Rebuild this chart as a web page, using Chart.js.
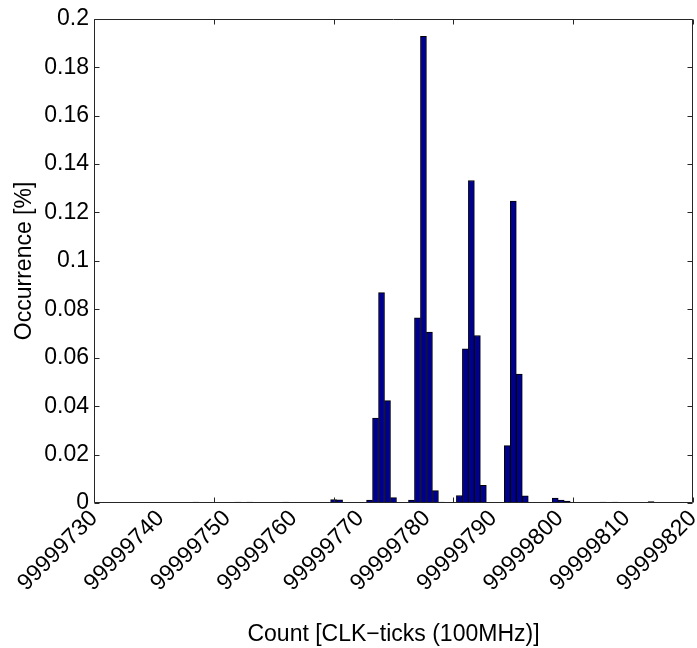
<!DOCTYPE html>
<html>
<head>
<meta charset="utf-8">
<script src="https://cdn.jsdelivr.net/npm/chart.js@4"></script>
<style>
  html, body { margin: 0; padding: 0; background: #fff; }
</style>
</head>
<body>
<canvas id="histChart" width="697" height="648"></canvas>
<script>
// counter readings (one histogram bin each) and how often each came up
const binCounts = [
  99999747, 99999754, 99999756, 99999762,
  99999770, 99999771,
  99999776, 99999777, 99999778, 99999779, 99999780,
  99999783, 99999784, 99999785, 99999786, 99999787, 99999788,
  99999791, 99999792, 99999793, 99999794, 99999795,
  99999799, 99999800, 99999801, 99999802,
  99999807, 99999808, 99999809, 99999815, 99999817, 99999823
];
const occurrence = [
  0.0004, 0.0004, 0.0004, 0.0004,
  0.0014, 0.0013,
  0.0012, 0.0351, 0.0869, 0.0423, 0.0022,
  0.0012, 0.0765, 0.1928, 0.0706, 0.0051, 0.0004,
  0.0031, 0.0637, 0.1332, 0.0692, 0.0073,
  0.0237, 0.1247, 0.0533, 0.0030,
  0.0020, 0.0012, 0.0008, 0.0004, 0.0004, 0.0006
];
// labels printed under the x axis
const countLabels = [
  '99999730', '99999740', '99999750', '99999760', '99999770',
  '99999780', '99999790', '99999800', '99999810', '99999820'
];
const xMin = 99999730, xMax = 99999830, xStep = 10;
const yMax = 0.2, yStep = 0.02;

const FONT = 'Liberation Sans, Arial, Helvetica, sans-serif';
const INK = '#262626';

// box around the plot with MATLAB style inward tick marks
const boxFrame = {
  id: 'boxFrame',
  afterDatasetsDraw(chart) {
    const { ctx, chartArea: a, scales } = chart;
    const L = Math.round(a.left) + 0.5, R = Math.round(a.right) - 0.5;
    const T = Math.round(a.top) + 0.5, B = Math.round(a.bottom) - 0.5;
    const len = 5;
    ctx.save();
    ctx.strokeStyle = INK;
    ctx.lineWidth = 1;
    ctx.beginPath();
    ctx.rect(L, T, R - L, B - T);
    scales.x.ticks.forEach(t => {
      const px = Math.round(scales.x.getPixelForValue(t.value)) + 0.5;
      ctx.moveTo(px, B); ctx.lineTo(px, B - len);
      ctx.moveTo(px, T); ctx.lineTo(px, T + len);
    });
    scales.y.ticks.forEach(t => {
      const py = Math.round(scales.y.getPixelForValue(t.value)) + 0.5;
      ctx.moveTo(L, py); ctx.lineTo(L + len, py);
      ctx.moveTo(R, py); ctx.lineTo(R - len, py);
    });
    ctx.stroke();
    ctx.restore();
  }
};

new Chart(document.getElementById('histChart'), {
  type: 'bar',
  data: {
    datasets: [{
      data: binCounts.map((c, i) => ({ x: c, y: occurrence[i] })),
      backgroundColor: '#00008f',
      borderColor: '#000000',
      borderWidth: 1,
      barPercentage: 1,
      categoryPercentage: 1,
      xAxisID: 'x',
      yAxisID: 'y'
    }]
  },
  options: {
    responsive: false,
    animation: false,
    layout: { padding: { top: 18, right: 4, left: 0, bottom: 0 } },
    plugins: { legend: { display: false }, tooltip: { enabled: false } },
    scales: {
      x: {
        type: 'linear',
        display: false,
        offset: false,
        min: xMin,
        max: xMax,
        ticks: { stepSize: xStep }
      },
      xl: {
        type: 'category',
        position: 'bottom',
        labels: countLabels,
        offset: false,
        grid: { display: false, drawTicks: false },
        border: { display: false },
        ticks: {
          autoSkip: false,
          minRotation: 45,
          maxRotation: 45,
          padding: 2,
          color: '#000',
          font: { family: FONT, size: 23 }
        },
        title: {
          display: true,
          text: 'Count [CLK−ticks (100MHz)]',
          color: '#000',
          font: { family: FONT, size: 23 },
          padding: { top: 0, bottom: 0 }
        },
        afterFit: s => {
          s.height = 145;
          // rotated labels stay inside the left margin, no extra room needed
          s.paddingLeft = 0;
          s.paddingRight = 0;
        }
      },
      y: {
        min: 0,
        max: yMax,
        grid: { display: false, drawTicks: false },
        border: { display: false },
        ticks: {
          stepSize: yStep,
          padding: 5,
          color: '#000',
          font: { family: FONT, size: 23 },
          callback: v => String(+v.toFixed(2))
        },
        title: {
          display: true,
          text: 'Occurrence [%]',
          color: '#000',
          font: { family: FONT, size: 23 },
          padding: { top: 11, bottom: 0 }
        },
        afterFit: s => { s.width = 94; }
      }
    }
  },
  plugins: [boxFrame]
});
</script>
</body>
</html>
